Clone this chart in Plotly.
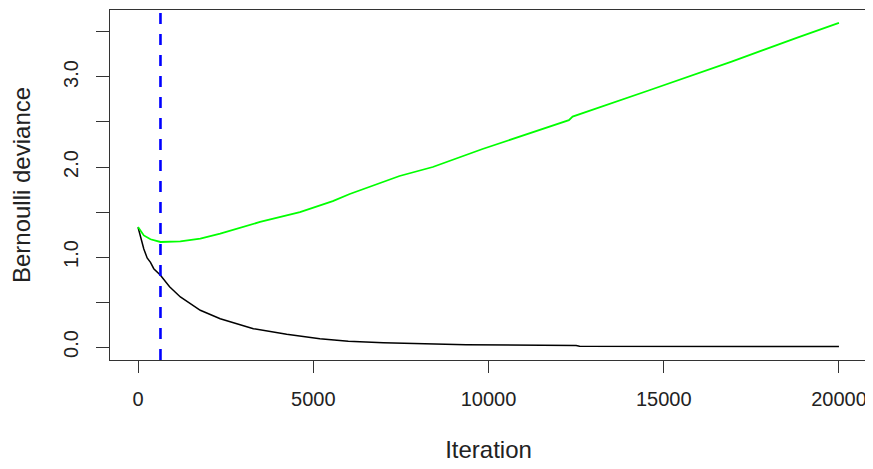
import plotly.graph_objects as go

# Training deviance (black)
train_iter = [0, 40, 100, 165, 260, 355, 449, 640, 900, 1208, 1777, 2345, 3292, 4241,
              5188, 6000, 7000, 8030, 9357, 12500, 12600, 20000]
train_dev = [1.33, 1.27, 1.17, 1.09, 0.99, 0.94, 0.87, 0.797, 0.67, 0.556, 0.408, 0.315,
             0.204, 0.141, 0.093, 0.065, 0.048, 0.035, 0.025, 0.018, 0.010, 0.005]

# Validation deviance (green)
valid_iter = [0, 165, 355, 640, 1208, 1777, 2345, 3197, 3482, 4620, 5557, 6041, 7462,
              8410, 9830, 12294, 12400, 14568, 16937, 18832, 20000]
valid_dev = [1.333, 1.24, 1.197, 1.167, 1.174, 1.204, 1.26, 1.36, 1.39, 1.50, 1.62, 1.70,
             1.90, 2.00, 2.20, 2.52, 2.56, 2.85, 3.17, 3.44, 3.60]

best_iter = 640

x_ticks = [0, 5000, 10000, 15000, 20000]
y_ticks = [0.0, 0.5, 1.0, 1.5, 2.0, 2.5, 3.0, 3.5]
y_ticktext = ["0.0", "", "1.0", "", "2.0", "", "3.0", ""]

FONT = "Liberation Sans, Arial, sans-serif"

fig = go.Figure()
fig.add_trace(go.Scatter(x=train_iter, y=train_dev, mode="lines",
                         line=dict(color="black", width=1.5), showlegend=False))
fig.add_trace(go.Scatter(x=valid_iter, y=valid_dev, mode="lines",
                         line=dict(color="#00ff00", width=1.8), showlegend=False))
fig.add_shape(type="line", x0=best_iter, x1=best_iter, xref="x", y0=0, y1=1,
              yref="y domain", line=dict(color="#0000ff", width=2.6, dash="11px,10px"),
              layer="above")

# page body has an 8px default margin, so the figure is sized to fit the window
fig.update_layout(
    width=865, height=461,
    margin=dict(l=102, r=6, t=2, b=109),
    paper_bgcolor="white", plot_bgcolor="white",
    font=dict(family=FONT, size=20, color="#222"),
    showlegend=False,
)
fig.update_xaxes(
    range=[-800, 20800], tickvals=x_ticks, ticktext=[str(v) for v in x_ticks],
    ticks="outside", ticklen=12, tickwidth=1, tickcolor="#333",
    showline=True, mirror=True, linecolor="#333", linewidth=1.2,
    showgrid=False, zeroline=False, automargin=False,
    ticklabelstandoff=9,
    title=dict(text="Iteration", standoff=32),
    tickfont=dict(size=20),
)
fig.update_yaxes(
    range=[-0.144, 3.744], tickvals=y_ticks, ticktext=y_ticktext,
    ticks="outside", ticklen=13, tickwidth=1, tickcolor="#333", tickangle=-90,
    showline=True, mirror=True, linecolor="#333", linewidth=1.2,
    showgrid=False, zeroline=False, automargin=False,
    ticklabelstandoff=10,
    title=dict(text="Bernoulli deviance", standoff=23),
    tickfont=dict(size=20),
)

fig.write_html("out.html")
